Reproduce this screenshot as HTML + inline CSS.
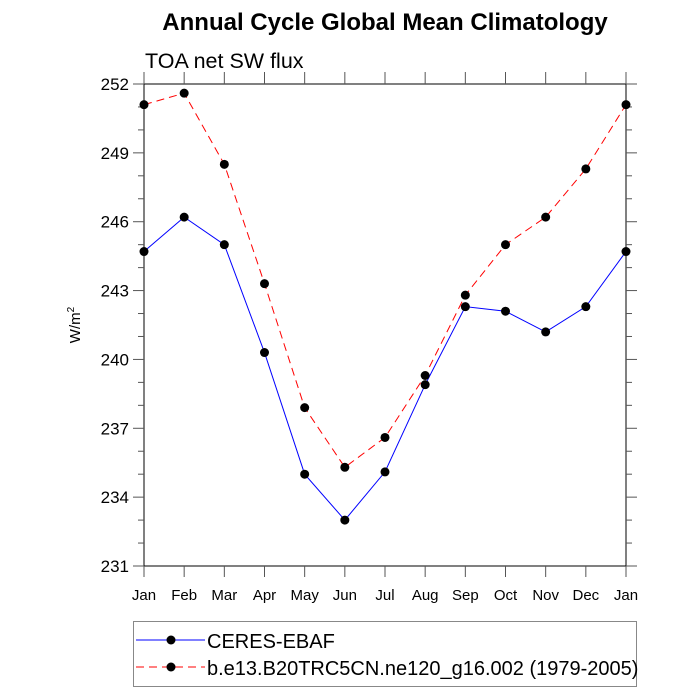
<!DOCTYPE html>
<html><head><meta charset="utf-8"><style>
body{margin:0;background:#fff;}
svg{display:block;font-family:"Liberation Sans",Arial,sans-serif;}
</style></head><body>
<svg id="c" width="700" height="700" viewBox="0 0 700 700" xmlns="http://www.w3.org/2000/svg">
<text x="385" y="30" text-anchor="middle" font-size="24" font-weight="bold">Annual Cycle Global Mean Climatology</text>
<text x="145" y="68" font-size="21.5">TOA net SW flux</text>
<text transform="translate(80,325) rotate(-90)" text-anchor="middle" font-size="15">W/m<tspan font-size="10" dy="-6">2</tspan></text>
<g id="axes"></g>
<g id="series"></g>
<g>
<rect x="133.5" y="621.5" width="503" height="65" fill="none" stroke="#888" stroke-width="1"/>
<g>
<line x1="136" y1="640" x2="205" y2="640" stroke="#0000ff" stroke-width="1"/>
<circle cx="171" cy="640" r="4.5" fill="#000"/>
<text x="207" y="648" font-size="20">CERES-EBAF</text></g>
<g>
<line x1="136" y1="667" x2="205" y2="667" stroke="#ff0000" stroke-width="1" stroke-dasharray="8,5"/>
<circle cx="171" cy="667" r="4.5" fill="#000"/>
<text x="207" y="675" font-size="20">b.e13.B20TRC5CN.ne120_g16.002 (1979-2005)</text></g>
</g>
</svg>
<script>
const months=["Jan","Feb","Mar","Apr","May","Jun","Jul","Aug","Sep","Oct","Nov","Dec","Jan"];
const ceres=[244.7,246.2,245.0,240.3,235.0,233.0,235.1,238.9,242.3,242.1,241.2,242.3,244.7];
const model=[251.1,251.6,248.5,243.3,237.9,235.3,236.6,239.3,242.8,245.0,246.2,248.3,251.1];
const yTicks=[231,234,237,240,243,246,249,252];
const L=144,R=626,T=84,B=566,ymin=231,ymax=252;
const NS="http://www.w3.org/2000/svg";
function xs(i){return L+(R-L)*i/(months.length-1);}
function ys(v){return B-(B-T)*(v-ymin)/(ymax-ymin);}
function mk(t,a,p){const e=document.createElementNS(NS,t);for(const k in a)e.setAttribute(k,a[k]);p.appendChild(e);return e;}
const ax=document.getElementById('axes');
const S="#555";
const frame=mk('rect',{x:L,y:T,width:R-L,height:B-T,fill:'none',stroke:'#000','stroke-width':1},ax);


for(let v=ymin;v<=ymax;v++){
  const major=yTicks.includes(v);const len=major?11:6;const y=ys(v);
  mk('line',{x1:L-len,y1:y,x2:L,y2:y,stroke:S,'stroke-width':1},ax);
  mk('line',{x1:R,y1:y,x2:R+len,y2:y,stroke:S,'stroke-width':1},ax);
}
yTicks.forEach(v=>{
  const t=mk('text',{x:L-15,y:ys(v)+6,'text-anchor':'end','font-size':17},ax);
  t.textContent=v;
  
  
});
months.forEach((m,i)=>{
  const x=xs(i);
  mk('line',{x1:x,y1:B,x2:x,y2:B+11,stroke:S,'stroke-width':1},ax);
  mk('line',{x1:x,y1:T-12,x2:x,y2:T,stroke:S,'stroke-width':1},ax);
  const t=mk('text',{x:x,y:B+34,'text-anchor':'middle','font-size':15},ax);
  t.textContent=m;
  
  
});
const sg=document.getElementById('series');
function draw(vals,color,dash,name){
  const g=mk('g',{},sg);
  
  
  const p=mk('polyline',{points:vals.map((v,i)=>xs(i)+','+ys(v)).join(' '),fill:'none',stroke:color,'stroke-width':1,'stroke-dasharray':dash},g);
  
  
  vals.forEach((v,i)=>{
    const c=mk('circle',{cx:xs(i),cy:ys(v),r:4.5,fill:'#000'},g);
    
    
  });
}
draw(ceres,'#0000ff','none','ceres-series');
draw(model,'#ff0000','8,5','model-series');
</script>
</body></html>
